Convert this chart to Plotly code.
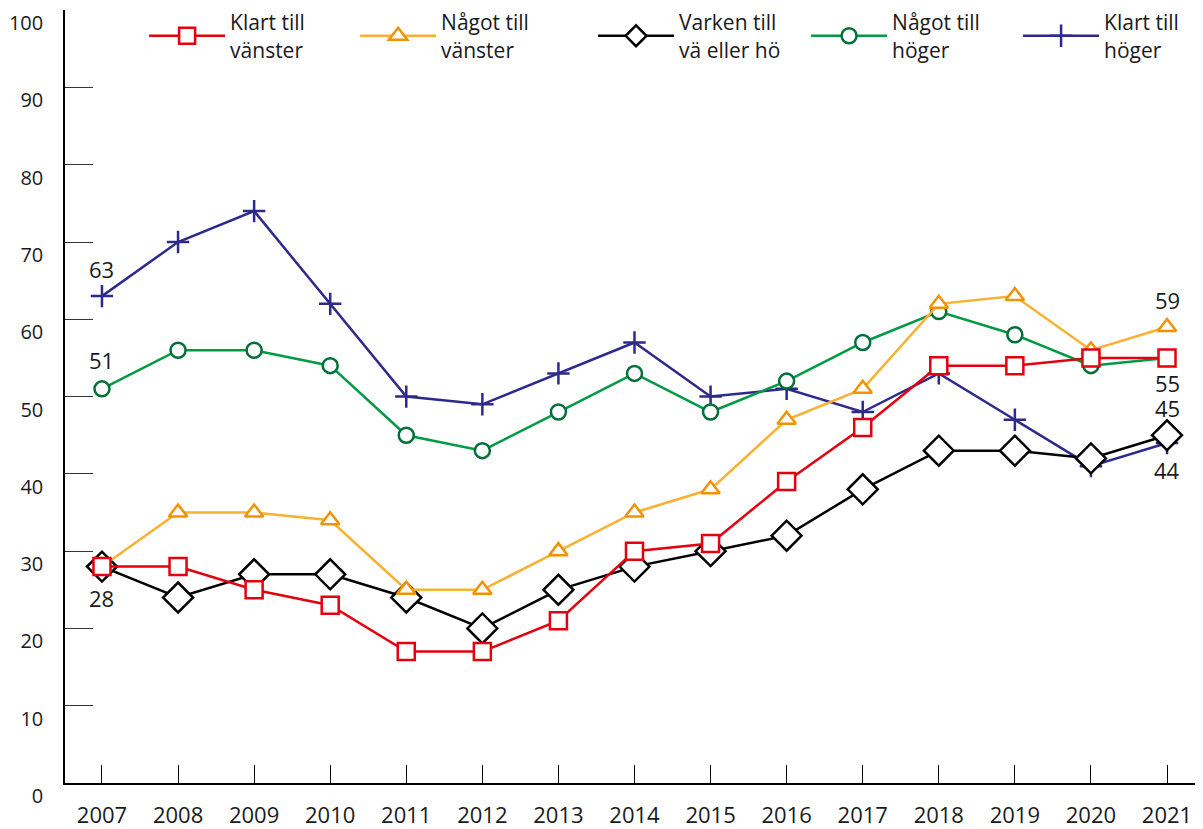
import plotly.graph_objects as go

years = list(range(2007, 2022))

klart_vanster = [28, 28, 25, 23, 17, 17, 21, 30, 31, 39, 46, 54, 54, 55, 55]
nagot_vanster = [28, 35, 35, 34, 25, 25, 30, 35, 38, 47, 51, 62, 63, 56, 59]
varken = [28, 24, 27, 27, 24, 20, 25, 28, 30, 32, 38, 43, 43, 42, 45]
nagot_hoger = [51, 56, 56, 54, 45, 43, 48, 53, 48, 52, 57, 61, 58, 54, 55]
klart_hoger = [63, 70, 74, 62, 50, 49, 53, 57, 50, 51, 48, 53, 47, 41, 44]

FONT = "Open Sans"
TXT = "#1a1a1a"

# drawn bottom-up: navy first, red on top
# (name, values, line colour, marker colour, symbol, size, fill, legend id, legend x)
series = [
    ("Klart till<br>höger", klart_hoger, "#2E2A8C", "#2E2A8C", "cross-thin", 16, "#2E2A8C", "legend5", 0.8375),
    ("Något till<br>höger", nagot_hoger, "#009A44", "#00703A", "circle", 15, "white", "legend4", 0.6512),
    ("Varken till<br>vä eller hö", varken, "#000000", "#000000", "diamond", 23, "white", "legend3", 0.4640),
    ("Något till<br>vänster", nagot_vanster, "#F8B133", "#F39200", "triangle-up", 16, "white", "legend2", 0.2549),
    ("Klart till<br>vänster", klart_vanster, "#E3000F", "#E3000F", "square", 17, "white", "legend", 0.0695),
]

fig = go.Figure()
legends = {}
for name, vals, lc, mc, sym, size, fill, leg, lx in series:
    fig.add_trace(go.Scatter(
        x=years, y=vals, name=name, mode="lines+markers", legend=leg,
        line=dict(color=lc, width=2.5),
        marker=dict(symbol=sym, size=size, color=fill,
                    line=dict(color=mc, width=2.5)),
    ))
    # one legend per series so the row never wraps
    legends[leg] = dict(orientation="h", x=lx, y=1.0104,
                        xanchor="left", yanchor="top", itemwidth=76,
                        font=dict(family=FONT, size=21, color=TXT),
                        bgcolor="rgba(0,0,0,0)")

# end labels
labels = [
    (2007, klart_hoger[0], 27),
    (2007, nagot_hoger[0], 29),
    (2007, varken[0], -31),
    (2021, nagot_vanster[-1], 27),
    (2021, klart_vanster[-1], -25),
    (2021, varken[-1], 27),
    (2021, klart_hoger[-1], -27),
]
for x, y, shift in labels:
    fig.add_annotation(x=x, y=y, text=str(y), showarrow=False, yshift=shift,
                       font=dict(family=FONT, size=22, color=TXT))

# page has an 8px body margin, so the figure is sized to fit the window
fig.update_layout(
    width=1195, height=821,
    margin=dict(l=57, r=0, t=2, b=46, autoexpand=False),
    paper_bgcolor="white", plot_bgcolor="white",
    font=dict(family=FONT, size=20, color=TXT),
    showlegend=True,
    **legends,
)
fig.update_xaxes(range=[2006.514, 2021.473], tickvals=years, showgrid=False,
                 zeroline=False, showline=True, linecolor="#000", linewidth=1.5,
                 ticks="inside", ticklen=18, tickcolor="#000", tickwidth=1,
                 ticklabelstandoff=12, tickfont=dict(size=22))
fig.update_yaxes(range=[0, 100.02], dtick=10, showgrid=False, zeroline=False,
                 showline=True, linecolor="#000", linewidth=1.5,
                 ticks="inside", ticklen=28, tickcolor="#333", tickwidth=1,
                 ticklabelstandoff=16, ticklabelshift=13, tickfont=dict(size=20))

fig.write_html("out.html")
